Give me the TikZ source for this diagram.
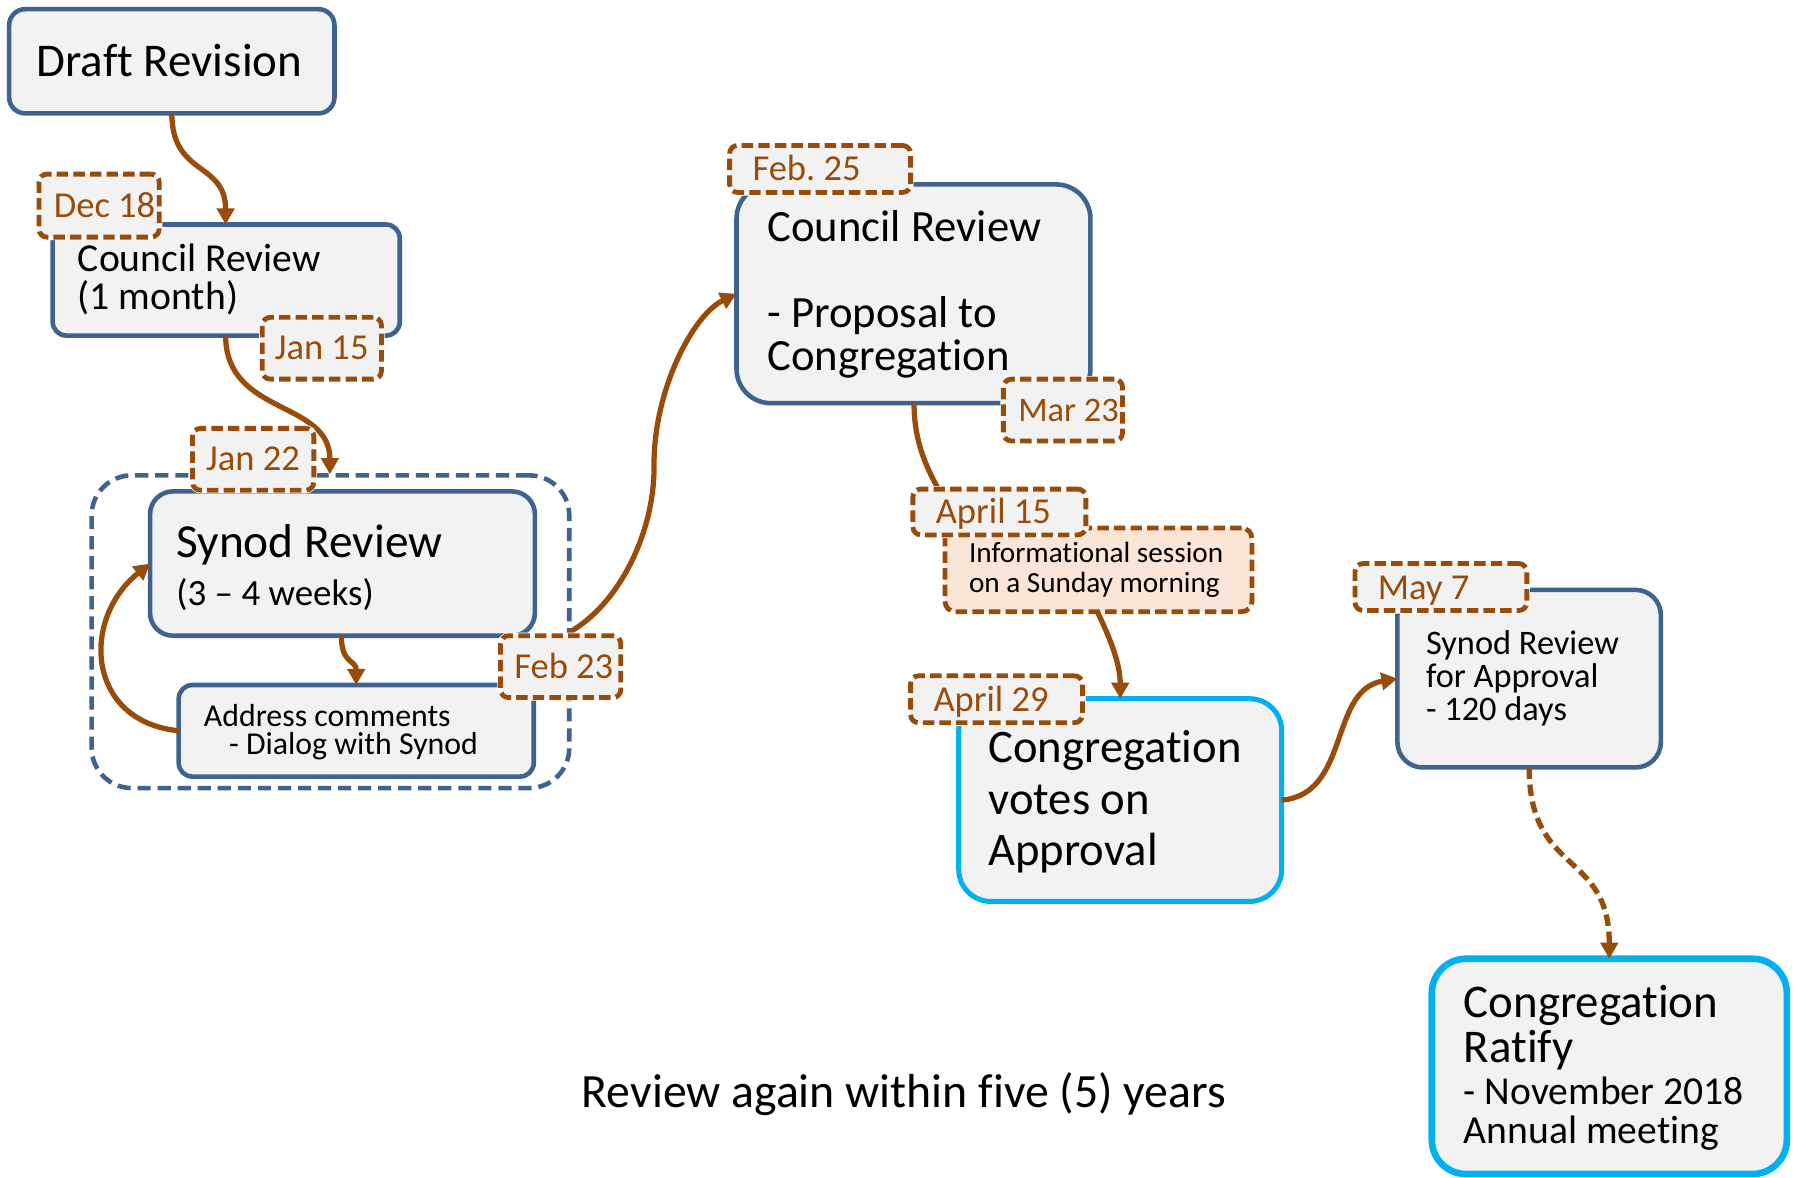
\documentclass[tikz,border=0pt]{standalone}
\usepackage{fontspec}
\setmainfont{Carlito}[Ligatures={NoCommon}]
\usetikzlibrary{arrows.meta,calc}
\definecolor{bxblue}{RGB}{62,99,145}
\definecolor{brn}{RGB}{153,76,10}
\definecolor{bxfill}{RGB}{242,242,242}
\definecolor{ltblue}{RGB}{0,176,240}
\definecolor{peach}{RGB}{251,229,214}
\newcommand\fs[2]{\fontsize{#1}{#2}\selectfont}
\frenchspacing
\begin{document}
\begin{tikzpicture}[x=1pt,y=-1pt,
  box/.style={draw=bxblue, fill=bxfill, line width=4pt, rounded corners=#1, anchor=north west, inner sep=0pt, outer sep=0pt},
  box/.default=12pt,
  cbox/.style={box=#1, draw=ltblue, line width=4.4pt},
  tagbox/.style={draw=brn, fill=bxfill, line width=4.2pt, dash pattern=on 10pt off 4.5pt, rounded corners=7pt, anchor=north west, inner sep=0pt, outer sep=0pt, preaction={draw=white, solid, line width=5.4pt}},
  grpbox/.style={draw=bxblue, line width=4pt, dash pattern=on 11.5pt off 6pt, rounded corners=35pt, anchor=north west, inner sep=0pt, outer sep=0pt},
  conn/.style={draw=brn, line width=4.6pt, -{Triangle[length=14pt,width=15pt]}},
  dconn/.style={conn, dash pattern=on 10pt off 5pt},
  txt/.style={anchor=base west, inner sep=0pt, outer sep=0pt, text=black},
  tagtxt/.style={txt, text=brn, font=\fs{31.9}{32}},
]
\useasboundingbox[fill=white] (0,0) rectangle (1568,1028);

% group outline
\node[grpbox, minimum width=417pt, minimum height=273pt] (grp) at (80,415) {};

% boxes
\node[box=14pt, minimum width=284pt, minimum height=91pt] (draft) at (8,8) {};
\node[box=12pt, minimum width=303pt, minimum height=97pt] (council1) at (46,196) {};
\node[box=20pt, minimum width=336pt, minimum height=126pt] (synod) at (131,429) {};
\node[box=12pt, minimum width=310pt, minimum height=80pt] (address) at (156,598) {};
\node[box=30pt, minimum width=309pt, minimum height=191pt] (council2) at (643,161) {};
\node[cbox=28pt, minimum width=282pt, minimum height=177pt] (votes) at (837,610) {};
\node[box=22pt, minimum width=230pt, minimum height=155pt] (approval) at (1220,515) {};
\node[cbox=30pt, line width=5.8pt, minimum width=310pt, minimum height=188pt] (ratify) at (1250,837) {};

% connectors
\draw[conn] ($(draft.south west)+(142,0)$) .. controls +(0,55) and +(0,-55) .. ($(council1.north west)+(151,0)$);
\draw[conn] ($(council1.south west)+(151,0)$) .. controls +(0,70) and +(0,-65) .. ($(grp.north west)+(208,-1)$);
\draw[conn] ($(synod.south west)+(167,0)$) .. controls +(0,25) and +(0,-22) .. ($(address.north west)+(155,0)$);
\draw[conn] (address.west) .. controls +(-80,-8) and +(-61,49) .. (synod.west);
\coordinate (feb23top) at (497,552);
\coordinate (bend) at (571,405);
\draw[conn] (feb23top) .. controls (540,528) and (572,465) .. (bend) .. controls (571,340) and (605,275) .. (council2.west);
\draw[conn] ($(council2.south west)+(155,0)$) .. controls +(0,45) and +(-20,-40) .. ($(council2.south west)+(194,109)$);
\draw[conn] (votes.east) .. controls +(60,-5) and +(-60,10) .. (approval.west);
\draw[dconn] (approval.south) .. controls +(0,95) and +(0,-95) .. (ratify.north);

% info box
\node[tagbox, fill=peach, rounded corners=9pt, minimum width=268pt, minimum height=73pt] (info) at (825,461) {};
\draw[conn] ($(info.south west)+(133,0)$) .. controls +(12,25) and +(0,-30) .. (votes.north);

% date tags
\node[tagbox, minimum width=105pt, minimum height=55pt] (dec18) at (34,152) {};
\node[tagbox, minimum width=104pt, minimum height=54pt] (jan15) at (229,277) {};
\node[tagbox, minimum width=106pt, minimum height=54pt] (jan22) at (168,374) {};
\node[tagbox, minimum width=105pt, minimum height=54pt] (feb23) at (437,555) {};
\node[tagbox, minimum width=158pt, minimum height=41pt] (feb25) at (637,127) {};
\node[tagbox, minimum width=104pt, minimum height=54pt] (mar23) at (876,331) {};
\node[tagbox, minimum width=151pt, minimum height=40pt] (apr15) at (797,427) {};
\node[tagbox, minimum width=150pt, minimum height=41pt] (apr29) at (795,590) {};
\node[tagbox, minimum width=150pt, minimum height=41pt] (may7) at (1183,492) {};

% tag texts
\node[tagtxt] (dec18t) at (47,190) {Dec 18};
\node[tagtxt] (jan15t) at (240,314) {Jan 15};
\node[tagtxt] (jan22t) at (180,411) {Jan 22};
\node[tagtxt] (feb23t) at (449,592) {Feb 23};
\node[tagtxt] (feb25t) at (657,158) {Feb. 25};
\node[tagtxt, font=\fs{30}{30}] (mar23t) at (889,368) {Mar 23};
\node[tagtxt] (apr15t) at (817,457) {April 15};
\node[tagtxt] (apr29t) at (815,621) {April 29};
\node[tagtxt] (may7t) at (1203,523) {May 7};

% box texts
\node[txt] (draftt) at (32,67) {\fs{41}{41}Draft Revision};
\node[txt] (council1t) at (68,237) {\fs{34.6}{33}\vtop{\hbox{Council Review}\hbox{(1 month)}}};
\node[txt] (synodt) at (154,487) {\vtop{\fs{41.4}{41}\hbox{Synod Review}\fs{32.3}{42}\hbox{(3 – 4 weeks)}}};
\node[txt] (addresst) at (178,634) {\fs{27.8}{25}\vtop{\hbox{Address comments}\hbox{\hspace{22pt}- Dialog with Synod}}};
\node[txt] (council2t) at (670,211) {\fs{39}{37.5}\vtop{\hbox{Council Review}\hbox{}\hbox{- Proposal to}\hbox{Congregation}}};
\node[txt] (infot) at (846,491) {\fs{25.5}{26}\vtop{\hbox{Informational session}\hbox{on a Sunday morning}}};
\node[txt] (votest) at (863,666) {\fs{40.7}{45}\vtop{\hbox{Congregation}\hbox{votes on}\hbox{Approval}}};
\node[txt] (approvalt) at (1245,571) {\fs{30}{29}\vtop{\hbox{Synod Review}\hbox{for Approval}\hbox{- 120 days}}};
\node[txt] (ratifyt) at (1278,888) {\vtop{\fs{40.9}{40}\hbox{Congregation}\hbox{Ratify}\fs{34.6}{36}\hbox{- November 2018}\fs{34.6}{34}\hbox{Annual meeting}}};
\node[txt] (footer) at (508,967) {\fs{41.7}{42}Review again within five (5) years};
\end{tikzpicture}
\end{document}
